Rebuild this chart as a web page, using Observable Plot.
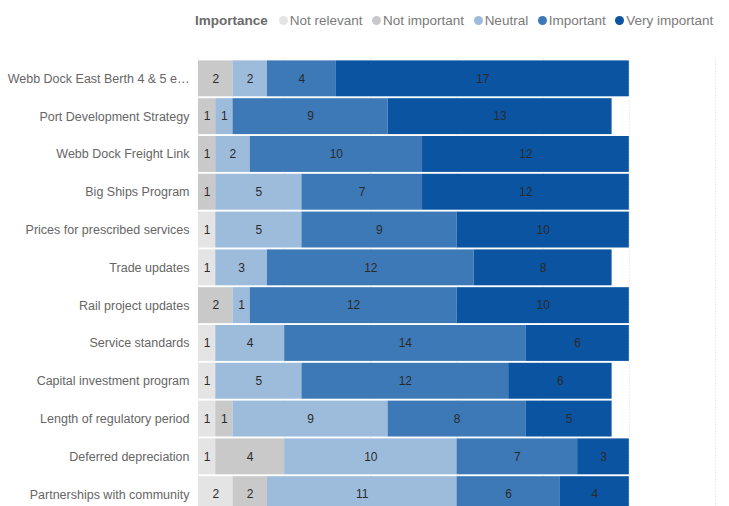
<!DOCTYPE html>
<html>
<head>
<meta charset="utf-8">
<script src="https://cdn.jsdelivr.net/npm/d3@7"></script>
<script src="https://cdn.jsdelivr.net/npm/@observablehq/plot@0.6"></script>
<style>
  html, body { margin: 0; padding: 0; background: #fff; overflow: hidden; width: 729px; height: 506px; }
  body { font-family: "Liberation Sans", Arial, sans-serif; }
  #legend { height: 40px; display: flex; align-items: center; padding-left: 195px; box-sizing: border-box; font-size: 13.5px; color: #7a7a7a; white-space: nowrap; }
  #legend .title { font-weight: bold; color: #6a6a6a; margin-right: 11px; }
  #legend .item { display: flex; align-items: center; margin-right: 9.5px; }
  #legend .dot { width: 9px; height: 9px; border-radius: 50%; margin-right: 2px; }
  #chart svg { display: block; }
</style>
</head>
<body>
<div id="legend"></div>
<div id="chart"></div>
<script>
const categories = [
  "Webb Dock East Berth 4 & 5 e…",
  "Port Development Strategy",
  "Webb Dock Freight Link",
  "Big Ships Program",
  "Prices for prescribed services",
  "Trade updates",
  "Rail project updates",
  "Service standards",
  "Capital investment program",
  "Length of regulatory period",
  "Deferred depreciation",
  "Partnerships with community"
];
const levels = ["Not relevant", "Not important", "Neutral", "Important", "Very important"];
const levelColors = ["#e4e4e4", "#c9c9c9", "#9dbcdc", "#3e79b7", "#0b54a2"];

const notRelevant   = [0, 0, 0, 0, 1, 1, 0, 1, 1, 1, 1, 2];
const notImportant  = [2, 1, 1, 1, 0, 0, 2, 0, 0, 1, 4, 2];
const neutral       = [2, 1, 2, 5, 5, 3, 1, 4, 5, 9, 10, 11];
const important     = [4, 9, 10, 7, 9, 12, 12, 14, 12, 8, 7, 6];
const veryImportant = [17, 13, 12, 12, 10, 8, 10, 6, 6, 5, 3, 4];
const gridTicks = [0, 5, 10, 15, 20, 25, 30];

const series = [notRelevant, notImportant, neutral, important, veryImportant];
const rows = [];
levels.forEach((lvl, j) => {
  categories.forEach((c, i) => {
    const v = series[j][i];
    if (v > 0) rows.push({category: c, level: lvl, value: v});
  });
});

// legend
const legend = document.getElementById("legend");
const t = document.createElement("span");
t.className = "title";
t.textContent = "Importance";
legend.appendChild(t);
levels.forEach((lvl, j) => {
  const it = document.createElement("span");
  it.className = "item";
  const d = document.createElement("span");
  d.className = "dot";
  d.style.background = levelColors[j];
  const s = document.createElement("span");
  s.textContent = lvl;
  it.appendChild(d);
  it.appendChild(s);
  legend.appendChild(it);
});

const chart = Plot.plot({
  width: 729,
  height: 474,
  marginLeft: 198,
  marginRight: 14,
  marginTop: 18.5,
  marginBottom: 0,
  style: {fontFamily: "'Liberation Sans', Arial, sans-serif", background: "#fff"},
  x: {domain: [0, 30], axis: null},
  y: {domain: categories, padding: 0.05, round: false, label: null, tickSize: 0, tickPadding: 9, fontSize: 12.5},
  color: {domain: levels, range: levelColors},
  marks: [
    Plot.ruleX(gridTicks, {stroke: "#d8d8d8", strokeDasharray: "1,2", strokeWidth: 1}),
    Plot.barX(rows, Plot.stackX({x: "value", y: "category", fill: "level", inset: 0})),
    Plot.text(rows, Plot.stackX({x: "value", y: "category", z: "level", text: "value", fill: "#2a2a2a", fontSize: 12}))
  ]
});
chart.querySelectorAll("g[aria-label='y-axis tick label']").forEach(e => { e.setAttribute("fill", "#666"); e.setAttribute("font-size", "12.5"); });
document.getElementById("chart").appendChild(chart);
</script>
</body>
</html>
